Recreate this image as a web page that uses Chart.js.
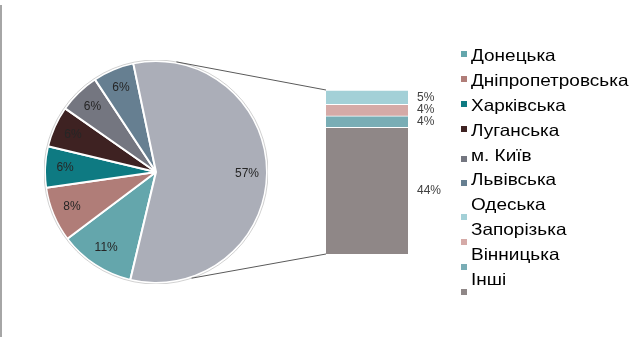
<!DOCTYPE html>
<html>
<head>
<meta charset="utf-8">
<script src="https://cdn.jsdelivr.net/npm/chart.js@4.4.0/dist/chart.umd.min.js"></script>
<style>
  html, body { margin: 0; padding: 0; background: #fff; }
  #wrap { position: relative; width: 641px; height: 342px; overflow: hidden; font-family: "Liberation Sans", Arial, sans-serif; }
  #frame { position: absolute; left: 0; top: 5px; width: 0; height: 332px; border-left: 2px solid #a6a6a6; }
  #pieBox { position: absolute; left: 44px; top: 60px; width: 224px; height: 224px; }
  #barBox { position: absolute; left: 318px; top: 84px; width: 140px; height: 176px; }
  #links { position: absolute; left: 0; top: 0; pointer-events: none; }
  #legend { position: absolute; left: 461px; top: 45px; }
  .item { position: relative; height: 24.9px; font-size: 16.5px; line-height: 20px; color: #000; white-space: nowrap; }
  .item span.txt { position: absolute; left: 10px; top: 0; transform: scaleX(1.15); transform-origin: left center; }
  .item span.mk { position: absolute; left: 0; width: 6px; height: 6px; top: 6px; }
  .item:nth-child(5) span.mk, .item:nth-child(6) span.mk { top: 11px; }
  .item:nth-child(n+7) span.mk { top: 20px; }
</style>
</head>
<body>
<div id="wrap">
  <div id="frame"></div>
  <div id="pieBox"><canvas id="pie"></canvas></div>
  <div id="barBox"><canvas id="bar"></canvas></div>
  <canvas id="links" width="641" height="342"></canvas>
  <div id="legend"></div>
</div>
<script>
// pie slices (regions shown separately)
const PIE_LABELS = ["Донецька", "Дніпропетровська", "Харківська", "Луганська", "м. Київ", "Львівська"];
const PIE_VALUES = [11, 8, 6, 6, 6, 6];
const PIE_COLORS = ["#64a6ac", "#b07d78", "#0e7a82", "#3e2222", "#747680", "#667f91"];

// regions grouped into the big slice, broken out in the bar
const BAR_LABELS = ["Одеська", "Запорізька", "Вінницька", "Інші"];
const BAR_VALUES = [5, 4, 4, 44];
const BAR_COLORS = ["#a3d0d7", "#d5aaa7", "#79adb5", "#8f8787"];

const OTHER_COLOR = "#abaeb8";
const OTHER_VALUE = BAR_VALUES.reduce((a, b) => a + b, 0);

const pieLabelPlugin = {
  id: "pieLabels",
  afterDatasetsDraw(chart) {
    const ctx = chart.ctx;
    const meta = chart.getDatasetMeta(0);
    const data = chart.data.datasets[0].data;
    ctx.save();
    // faint outer rim
    const a0 = meta.data[0];
    ctx.beginPath();
    ctx.arc(a0.x, a0.y, a0.outerRadius + 1, 0, Math.PI * 2);
    ctx.strokeStyle = "rgba(0,0,0,0.18)";
    ctx.lineWidth = 1;
    ctx.stroke();
    ctx.font = "12px 'Liberation Sans', Arial, sans-serif";
    ctx.fillStyle = "#262626";
    ctx.textAlign = "center";
    ctx.textBaseline = "middle";
    meta.data.forEach((arc, i) => {
      const mid = (arc.startAngle + arc.endAngle) / 2;
      const r = arc.outerRadius * 0.82;
      ctx.fillText(data[i] + "%", arc.x + Math.cos(mid) * r, arc.y + Math.sin(mid) * r);
    });
    ctx.restore();
  }
};

const barLabelPlugin = {
  id: "barLabels",
  afterDatasetsDraw(chart) {
    const ctx = chart.ctx;
    ctx.save();
    ctx.font = "12px 'Liberation Sans', Arial, sans-serif";
    ctx.fillStyle = "#404040";
    ctx.textAlign = "left";
    ctx.textBaseline = "middle";
    chart.data.datasets.forEach((ds, i) => {
      const el = chart.getDatasetMeta(i).data[0];
      ctx.fillText(ds.data[0] + "%", chart.chartArea.right + 9, (el.y + el.base) / 2);
    });
    ctx.restore();
  }
};

const pieChart = new Chart(document.getElementById("pie"), {
  type: "pie",
  data: {
    labels: PIE_LABELS.concat(["Інші регіони"]),
    datasets: [{
      data: PIE_VALUES.concat([OTHER_VALUE]),
      backgroundColor: PIE_COLORS.concat([OTHER_COLOR]),
      borderColor: "#ffffff",
      borderWidth: 2,
      hoverOffset: 0
    }]
  },
  options: {
    responsive: true,
    maintainAspectRatio: false,
    animation: false,
    rotation: 193.4,
    layout: { padding: 0 },
    plugins: { legend: { display: false }, tooltip: { enabled: false } }
  },
  plugins: [pieLabelPlugin]
});

// stack bottom-up: Інші first, Одеська on top
const barDatasets = BAR_LABELS.map((label, i) => ({
  label,
  data: [BAR_VALUES[i]],
  backgroundColor: BAR_COLORS[i],
  borderColor: "#ffffff",
  borderWidth: { top: 1, bottom: 0, left: 0, right: 0 },
  borderSkipped: false,
  barPercentage: 1,
  categoryPercentage: 1
})).reverse();

const barChart = new Chart(document.getElementById("bar"), {
  type: "bar",
  data: { labels: [""], datasets: barDatasets },
  options: {
    responsive: true,
    maintainAspectRatio: false,
    animation: false,
    layout: { padding: { left: 8, right: 50, top: 6, bottom: 6 } },
    scales: {
      x: { display: false, stacked: true },
      y: { display: false, stacked: true, min: 0, max: OTHER_VALUE }
    },
    plugins: { legend: { display: false }, tooltip: { enabled: false } }
  },
  plugins: [barLabelPlugin]
});

// connector lines between the big slice and the bar
function drawLinks() {
  const cv = document.getElementById("links");
  const ctx = cv.getContext("2d");
  ctx.clearRect(0, 0, cv.width, cv.height);
  const pieBox = document.getElementById("pieBox");
  const barBox = document.getElementById("barBox");
  const arc = pieChart.getDatasetMeta(0).data[PIE_VALUES.length];
  const cx = pieBox.offsetLeft + arc.x;
  const cy = pieBox.offsetTop + arc.y;
  const r = arc.outerRadius + 1;
  const top = barChart.getDatasetMeta(barDatasets.length - 1).data[0];
  const bottom = barChart.getDatasetMeta(0).data[0];
  const bx = barBox.offsetLeft + top.x - top.width / 2;
  const topAng = (10.5 - 90) * Math.PI / 180;
  const botAng = (161.5 - 90) * Math.PI / 180;
  ctx.strokeStyle = "#5a5a5a";
  ctx.lineWidth = 1;
  ctx.beginPath();
  ctx.moveTo(cx + Math.cos(topAng) * r, cy + Math.sin(topAng) * r);
  ctx.lineTo(bx, barBox.offsetTop + top.y);
  ctx.moveTo(cx + Math.cos(botAng) * r, cy + Math.sin(botAng) * r);
  ctx.lineTo(bx, barBox.offsetTop + bottom.base);
  ctx.stroke();
}
drawLinks();

// legend
const legend = document.getElementById("legend");
PIE_LABELS.concat(BAR_LABELS).forEach((label, i) => {
  const color = PIE_COLORS.concat(BAR_COLORS)[i];
  const row = document.createElement("div");
  row.className = "item";
  row.innerHTML = `<span class="mk" style="background:${color}"></span><span class="txt">${label}</span>`;
  legend.appendChild(row);
});
</script>
</body>
</html>
